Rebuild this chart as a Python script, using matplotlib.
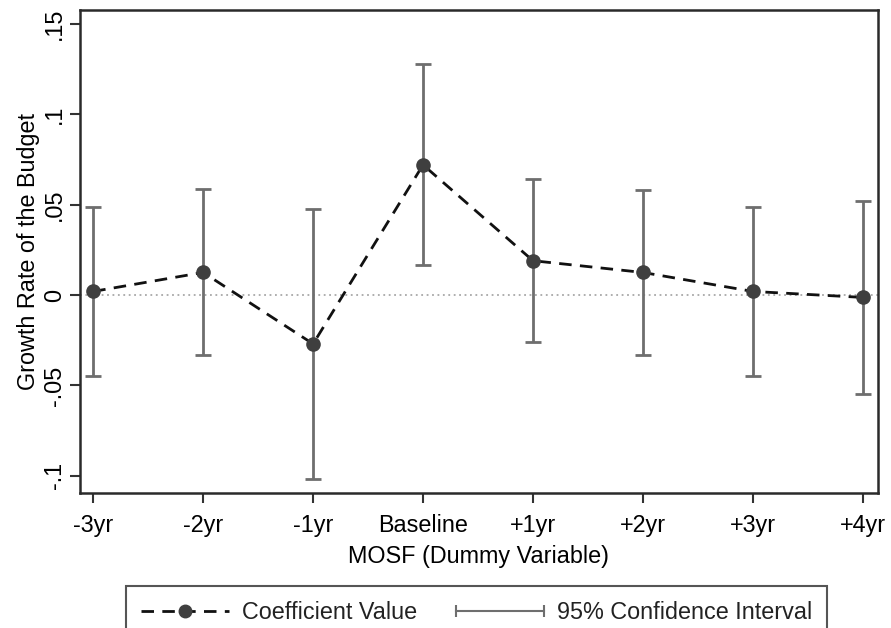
import numpy as np
import matplotlib
matplotlib.use("Agg")
import matplotlib.pyplot as plt
from matplotlib.lines import Line2D
from matplotlib.legend_handler import HandlerLine2D

# ---- Data ----
labels = ["-3yr", "-2yr", "-1yr", "Baseline", "+1yr", "+2yr", "+3yr", "+4yr"]
coef = [0.002, 0.0125, -0.027, 0.072, 0.019, 0.0125, 0.002, -0.0013]
ci_low = [-0.0448, -0.0332, -0.1016, 0.0166, -0.0262, -0.0334, -0.0448, -0.0546]
ci_high = [0.0488, 0.0585, 0.0474, 0.128, 0.0643, 0.0583, 0.0488, 0.052]

yticks = [-0.1, -0.05, 0, 0.05, 0.1, 0.15]
yticklabels = ["-.1", "-.05", "0", ".05", ".1", ".15"]

FS = 16.8
plt.rcParams["font.family"] = ["Liberation Sans", "DejaVu Sans"]
plt.rcParams["text.color"] = "#222222"

fig = plt.figure(figsize=(8.91, 6.28), dpi=100)
ax = fig.add_axes([0.0898, 0.2154, 0.8952, 0.7686])

x = np.arange(len(labels))
coef = np.asarray(coef)
lo = coef - np.asarray(ci_low)
hi = np.asarray(ci_high) - coef

ax.axhline(0, color="#a8a8a8", lw=1.3, ls=(0, (1, 2)), zorder=1)
ax.errorbar(x, coef, yerr=[lo, hi], fmt="none", ecolor="#6e6e6e",
            elinewidth=2, capsize=5.5, capthick=2, zorder=2)
ax.plot(x, coef, color="#111111", lw=2, ls=(0, (4.5, 3)), zorder=3)
ax.plot(x, coef, "o", color="#3f3f3f", ms=9.5, zorder=4)

ax.set_xlim(-0.12, 7.135)
ax.set_ylim(-0.1093, 0.1576)
ax.set_xticks(x)
ax.set_xticklabels(labels, fontsize=FS)
ax.set_yticks(yticks)
ax.set_yticklabels(yticklabels, fontsize=FS, rotation=90, va="center")
ax.tick_params(direction="out", length=7, width=1.5, color="#333333")
ax.tick_params(axis="x", pad=8)
ax.tick_params(axis="y", pad=3)
for s in ax.spines.values():
    s.set_linewidth(1.8)
    s.set_color("#2a2a2a")

ax.set_xlabel("MOSF (Dummy Variable)", fontsize=FS, labelpad=6)
ax.set_ylabel("Growth Rate of the Budget", fontsize=FS, labelpad=2)

# ---- Legend (box runs off the bottom of the canvas, as in the original) ----
h_coef = Line2D([], [], color="#111111", lw=2, ls=(0, (4.5, 3)), marker="o",
                markersize=9, markerfacecolor="#3f3f3f", markeredgecolor="#3f3f3f")
h_ci = Line2D([], [], color="#6e6e6e", lw=1.5, marker="|", markersize=9,
              markeredgewidth=1.5)
leg = fig.legend([h_coef, h_ci], ["Coefficient Value", "95% Confidence Interval"],
                 loc="upper left", bbox_to_anchor=(126 / 891, (628 - 586) / 628),
                 borderaxespad=0, ncol=2, fontsize=FS, frameon=True, fancybox=False,
                 handlelength=3.75, columnspacing=1.7, handletextpad=0.55,
                 borderpad=0.65,
                 handler_map={h_coef: HandlerLine2D(numpoints=1),
                              h_ci: HandlerLine2D(numpoints=2, marker_pad=0)})
leg.get_frame().set_edgecolor("#2a2a2a")
leg.get_frame().set_linewidth(1.5)

fig.savefig("out.png", dpi=100)
